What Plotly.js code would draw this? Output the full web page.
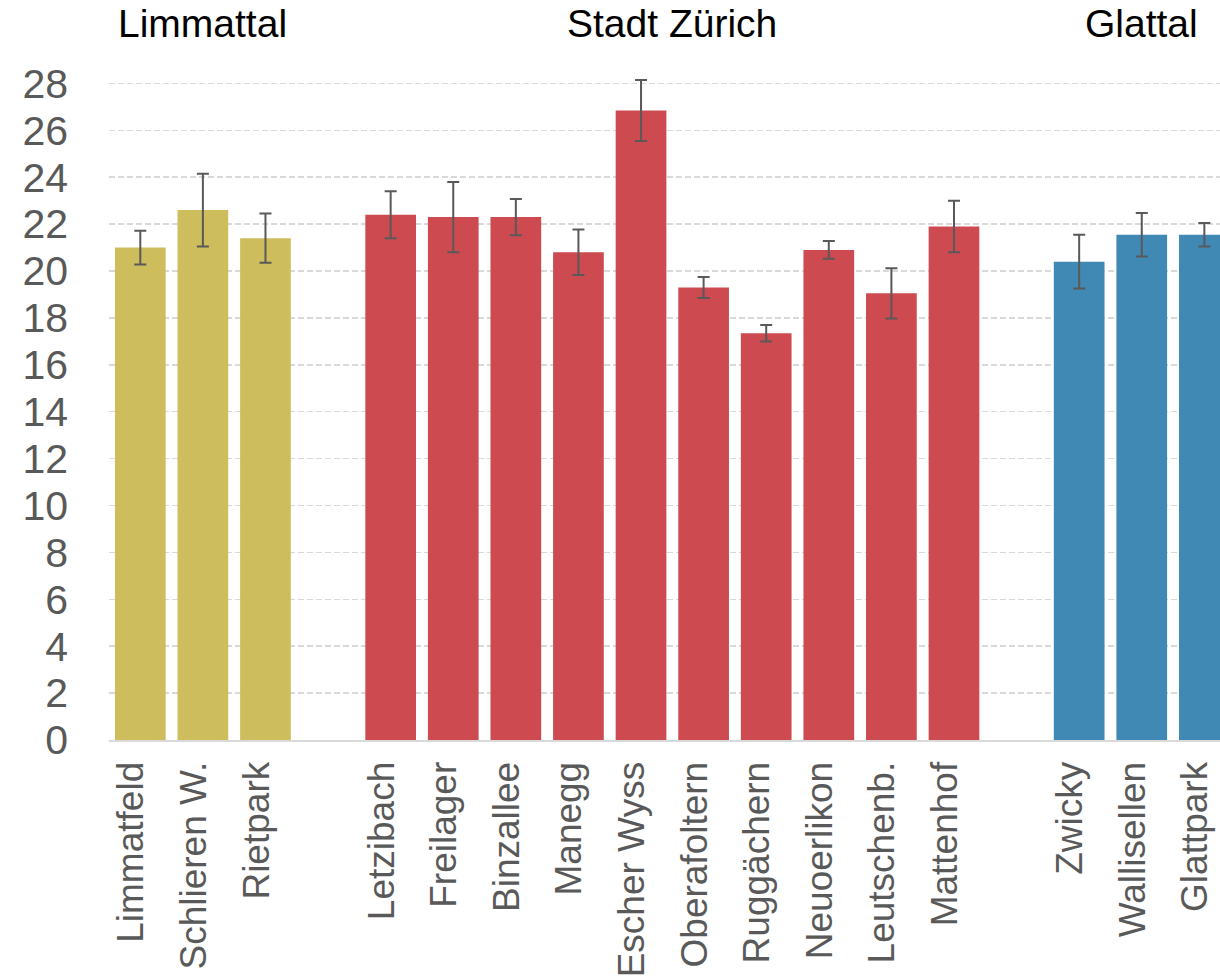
<!DOCTYPE html>
<html>
<head>
<meta charset="utf-8">
<script src="https://cdn.plot.ly/plotly-3.0.1.min.js"></script>
<style>html,body{margin:0;padding:0;overflow:hidden;background:#fff;}</style>
</head>
<body>
<div id="chart" style="width:1220px;height:980px;"></div>
<script>
// Group names
const groupNames = ['Limmattal', 'Stadt Zürich', 'Glattal'];
// Categories per group
const limmattalSites = ['Limmatfeld', 'Schlieren W.', 'Rietpark'];
const stadtSites = ['Letzibach', 'Freilager', 'Binzallee', 'Manegg', 'Escher Wyss', 'Oberafoltern', 'Ruggächern', 'Neuoerlikon', 'Leutschenb.', 'Mattenhof'];
const glattalSites = ['Zwicky', 'Wallisellen', 'Glattpark'];
// Values
const limmattalValues = [21.0, 22.6, 21.4];
const stadtValues = [22.4, 22.3, 22.3, 20.8, 26.85, 19.3, 17.35, 20.9, 19.05, 21.9];
const glattalValues = [20.4, 21.55, 21.55];
// Error bar half-widths
const limmattalErr = [0.72, 1.55, 1.05];
const stadtErr = [1.0, 1.5, 0.77, 0.97, 1.3, 0.45, 0.35, 0.38, 1.07, 1.1];
const glattalErr = [1.15, 0.93, 0.5];
// Gap placeholders between groups
const gaps = [' ', '  '];
const colors = ['#CDBD5C', '#CC4A50', '#4189B5'];

const catOrder = [].concat(limmattalSites, [gaps[0]], stadtSites, [gaps[1]], glattalSites);

function mk(x, y, e, c) {
  return {
    type: 'bar', x: x, y: y, width: 0.81,
    marker: {color: c, line: {width: 0}},
    error_y: {type: 'data', array: e, visible: true, color: '#595959', thickness: 2, width: 6},
    hoverinfo: 'x+y', showlegend: false
  };
}
const traces = [
  mk(limmattalSites, limmattalValues, limmattalErr, colors[0]),
  mk(stadtSites, stadtValues, stadtErr, colors[1]),
  mk(glattalSites, glattalValues, glattalErr, colors[2])
];

const groups = [limmattalSites, stadtSites, glattalSites];
const annotations = groups.map((g, i) => ({
  x: catOrder.indexOf(g[0]) + (g.length - 1) / 2, xref: 'x', y: 1.053, yref: 'paper',
  text: groupNames[i], showarrow: false, xanchor: 'center', yanchor: 'middle',
  font: {family: 'Liberation Sans, Arial, sans-serif', size: 39, color: '#000'}
}));

const layout = {
  width: 1220, height: 980,
  margin: {l: 109, r: 0, t: 60, b: 240},
  paper_bgcolor: '#fff', plot_bgcolor: '#fff',
  barmode: 'overlay',
  font: {family: 'Liberation Sans, Arial, sans-serif', color: '#595959'},
  xaxis: {
    type: 'category', categoryorder: 'array', categoryarray: catOrder,
    range: [-0.5, 17.25], tickangle: -90,
    tickfont: {size: 37, color: '#595959'},
    showgrid: false, showline: true, linecolor: '#d9d9d9', linewidth: 2,
    ticks: '', ticklabelstandoff: 5, ticklabelshift: -9, zeroline: false
  },
  yaxis: {
    range: [0, 29], dtick: 2, tick0: 0,
    tickfont: {size: 41, color: '#595959'},
    showgrid: true, gridcolor: '#d9d9d9', gridwidth: 1.5, griddash: '6px,3px',
    zeroline: false, showline: false, ticks: '', ticklabelstandoff: 40
  },
  annotations: annotations
};
Plotly.newPlot('chart', traces, layout, {displayModeBar: false, staticPlot: true});
</script>
</body>
</html>
